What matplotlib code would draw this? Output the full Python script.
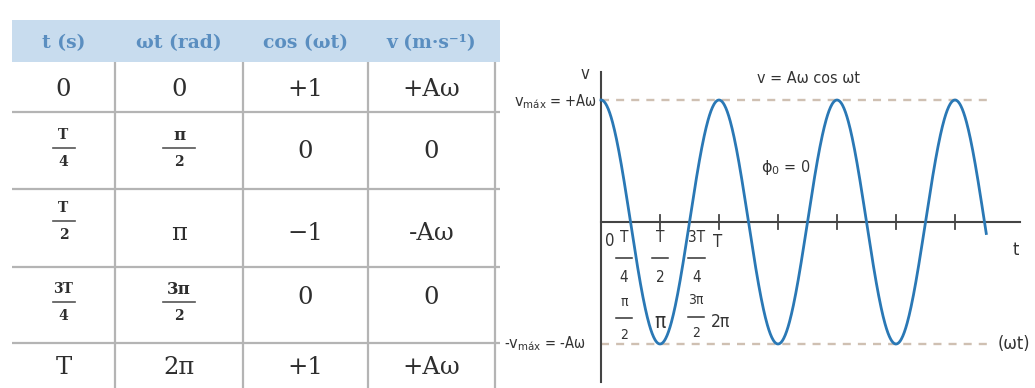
import numpy as np
import matplotlib
matplotlib.use("Agg")
import matplotlib.pyplot as plt
from matplotlib import font_manager

# --- table contents ---
headers = ["t (s)", "ωt (rad)", "cos (ωt)", "v (m·s⁻¹)"]
t_col = ["0", "T/4", "T/2", "3T/4", "T"]
wt_col = ["0", "π/2", "π", "3π/2", "2π"]
cos_col = ["+1", "0", "−1", "0", "+1"]
v_col = ["+Aω", "0", "-Aω", "0", "+Aω"]

# --- graph contents ---
amplitude = 1.0          # A·ω, in units of v_max
period = 1.0             # T
n_periods_drawn = 3.265  # curve stops just past the last zero crossing
tick_steps = [0.5, 1.0, 1.5, 2.0, 2.5, 3.0]
t_tick_labels = ["0", "T/4", "T/2", "3T/4", "T"]
wt_tick_labels = ["π/2", "π", "3π/2", "2π"]

# pick a narrow sans for the graph labels if one is around
narrow_file = None
for f in font_manager.fontManager.ttflist:
    base = f.fname.split("/")[-1]
    if base in ("LiberationSansNarrow-Regular.ttf", "DejaVuSansCondensed.ttf",
                "RobotoCondensed-Regular.ttf"):
        narrow_file = f.fname
        break
if narrow_file:
    font_manager.fontManager.addfont(narrow_file)
    narrow = font_manager.FontProperties(fname=narrow_file).get_name()
else:
    narrow = "DejaVu Sans"
SANS_PROPS = dict(fname=narrow_file) if narrow_file else dict(family="DejaVu Sans")
SERIF = ["DejaVu Serif"]


def sans(size):
    return font_manager.FontProperties(size=size, **SANS_PROPS)


W, H = 1035, 388
fig = plt.figure(figsize=(W / 100, H / 100), dpi=100)

# ---------------- table ----------------
ax_t = fig.add_axes([0, 0, 500 / W, 1])
ax_t.set_xlim(0, 500)
ax_t.set_ylim(H, 0)
ax_t.axis("off")

col_edges = [12, 115, 243, 368, 495]
row_edges = [62, 112, 189, 267, 343, 388]
text_y = [90, 152, 233, 297, 367]
frac_y = [None, 148, 221, 302, None]
grid_c = "#b4b4b4"
txt_c = "#2e2e2e"
head_c = "#5a8ec0"

ax_t.add_patch(plt.Rectangle((12, 20), 488, 42, color="#c8dcee", lw=0))
for i, h in enumerate(headers):
    xc = (col_edges[i] + col_edges[i + 1]) / 2
    ax_t.text(xc, 43, h, ha="center", va="center", fontsize=13.5,
              color=head_c, family=SERIF, fontweight="bold")

for y in row_edges[1:-1]:
    ax_t.plot([12, 500], [y, y], color=grid_c, lw=1.6, solid_capstyle="butt")
for x in col_edges[1:]:
    ax_t.plot([x, x], [62, H], color=grid_c, lw=1.6, solid_capstyle="butt")


def cell(xc, row, label):
    if "/" in label:
        num, den = label.split("/")
        yb = frac_y[row]
        big = "π" in num
        fs = 12 if big else 10
        ax_t.text(xc, yb - 13, num, ha="center", va="center", fontsize=fs,
                  color=txt_c, family=SERIF, fontweight="bold")
        ax_t.text(xc, yb + 14, den, ha="center", va="center", fontsize=10,
                  color=txt_c, family=SERIF, fontweight="bold")
        half = 16 if big else 11
        ax_t.plot([xc - half, xc + half], [yb, yb], color="#555555", lw=1.2)
    else:
        ax_t.text(xc, text_y[row], label, ha="center", va="center",
                  fontsize=17.5, color=txt_c, family=SERIF)


for i, col in enumerate([t_col, wt_col, cos_col, v_col]):
    xc = (col_edges[i] + col_edges[i + 1]) / 2
    for r, lab in enumerate(col):
        cell(xc, r, lab)

# ---------------- graph ----------------
X0, Y0, TPX, APX = 601, 222, 118, 122   # origin and scale in pixels
ax = fig.add_axes([500 / W, 0, 535 / W, 1])
ax.set_xlim((500 - X0) / TPX, (W - X0) / TPX)
ax.set_ylim((Y0 - H) / APX, Y0 / APX)
ax.axis("off")

axis_c = "#444444"
dash_c = "#cfc0b2"
curve_c = "#2a78b5"

# guide lines at +/- v_max
for yv in (amplitude, -amplitude):
    ax.plot([0, 3.31], [yv, yv], color=dash_c, lw=1.7, ls=(0, (3.4, 3.0)))

# axes
ax.plot([0, (1020 - X0) / TPX], [0, 0], color=axis_c, lw=1.5)
ax.plot([0, 0], [(Y0 - 382) / APX, (Y0 - 72) / APX], color=axis_c, lw=1.5)
for tx in tick_steps:
    ax.plot([tx, tx], [-0.055, 0.055], color=axis_c, lw=1.3)

# v = A w cos(w t)
t = np.linspace(0, n_periods_drawn * period, 800)
v = amplitude * np.cos(2 * np.pi * t / period)
ax.plot(t, v, color=curve_c, lw=2.0, zorder=3)

lab_c = "#333333"
plt.rcParams["mathtext.fontset"] = "custom"
plt.rcParams["mathtext.rm"] = narrow
plt.rcParams["mathtext.it"] = narrow

ax.text(-0.136, 1.21, "v", ha="center", va="center", fontproperties=sans(12), color=lab_c)
ax.text(-0.03, 0.99, r"$\mathrm{v_{máx}}$ = +Aω", ha="right", va="center",
        fontproperties=sans(10.5), color=lab_c)
ax.text(-0.13, -1.0, r"-$\mathrm{v_{máx}}$ = -Aω", ha="right", va="center",
        fontproperties=sans(10.5), color=lab_c)
ax.text(1.755, 1.18, "v = Aω cos ωt", ha="center", va="center", fontproperties=sans(11.5),
        color=lab_c)
ax.text(1.36, 0.45, r"$\mathrm{\phi_0}$ = 0", ha="left", va="center",
        fontproperties=sans(11.5), color=lab_c)
ax.text((1016 - X0) / TPX, -0.23, "t", ha="center", va="center", fontproperties=sans(13),
        color=lab_c)
ax.text(3.36, -1.0, "(ωt)", ha="left", va="center", fontproperties=sans(13), color=lab_c)


def frac_label(x, ytop, label, fs, gap):
    num, den = label.split("/")
    ax.text(x, ytop, num, ha="center", va="center", fontproperties=sans(fs), color=lab_c)
    yb = ytop - gap
    ax.plot([x - 0.07, x + 0.07], [yb, yb], color=lab_c, lw=1.1)
    ax.text(x, yb - gap, den, ha="center", va="center", fontproperties=sans(fs), color=lab_c)


# time labels under the axis
t_pos = [(0.076, -0.156), (0.195, -0.131), (0.5, -0.131), (0.81, -0.131), (0.99, -0.164)]
for (x, y), lab in zip(t_pos, t_tick_labels):
    if "/" in lab:
        frac_label(x, y, lab, 11, 0.16)
    else:
        ax.text(x, y, lab, ha="center", va="center", fontproperties=sans(12), color=lab_c)

# phase labels
wt_pos = [(0.195, -0.655), (0.5, -0.82), (0.805, -0.64), (1.01, -0.82)]
for (x, y), lab in zip(wt_pos, wt_tick_labels):
    if "/" in lab:
        frac_label(x, y, lab, 10, 0.135)
    else:
        ax.text(x, y, lab, ha="center", va="center",
                fontproperties=sans(15 if lab == "π" else 12.5), color=lab_c)

fig.savefig("out.png", dpi=100)
